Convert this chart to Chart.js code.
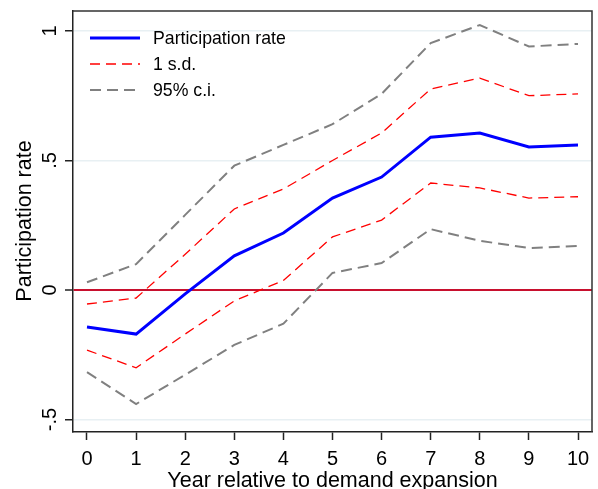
<!DOCTYPE html>
<html>
<head>
<meta charset="utf-8">
<script src="https://cdn.jsdelivr.net/npm/chart.js@4.4.1/dist/chart.umd.min.js"></script>
<style>
  html, body { margin: 0; padding: 0; background: #fff; }
  #wrap { width: 598px; height: 489px; }
</style>
</head>
<body>
<div id="wrap"><canvas id="c" width="598" height="489"></canvas></div>
<script>
// ---- data ----
const years = [0, 1, 2, 3, 4, 5, 6, 7, 8, 9, 10];
const participation = [-0.143, -0.170, -0.015, 0.132, 0.220, 0.355, 0.436, 0.590, 0.606, 0.552, 0.560];
const sdUpper  = [-0.054, -0.031, 0.138, 0.313, 0.390, 0.500, 0.606, 0.776, 0.818, 0.750, 0.757];
const sdLower  = [-0.232, -0.300, -0.170, -0.042, 0.037, 0.205, 0.270, 0.413, 0.394, 0.355, 0.360];
const ciUpper  = [0.030, 0.100, 0.290, 0.480, 0.560, 0.640, 0.757, 0.953, 1.023, 0.940, 0.950];
const ciLower  = [-0.317, -0.440, -0.327, -0.212, -0.130, 0.066, 0.104, 0.235, 0.190, 0.162, 0.170];
const yTickValues = [-0.5, 0, 0.5, 1];
const yTickLabels = ['-.5', '0', '.5', '1'];
const xTickValues = years;
const xTickLabels = years.map(String);
const legendLabels = ['Participation rate', '1 s.d.', '95% c.i.'];
const xTitle = 'Year relative to demand expansion';
const yTitle = 'Participation rate';

const pts = arr => years.map((x, i) => ({ x: x, y: arr[i] }));
const FONT = '"Liberation Sans", Arial, sans-serif';

const BLUE = '#0000ff', RED = '#ff0000', GRAY = '#808080';

const customDraw = {
  id: 'customDraw',
  afterDraw(chart) {
    const ctx = chart.ctx;
    const ca = chart.chartArea;
    const xs = chart.scales.x, ys = chart.scales.y;
    ctx.save();
    // top and right border of the plot box
    ctx.strokeStyle = '#333';
    ctx.lineWidth = 1.5;
    ctx.beginPath();
    ctx.moveTo(ca.left, ca.top);
    ctx.lineTo(ca.right, ca.top);
    ctx.lineTo(ca.right, ca.bottom);
    ctx.stroke();

    ctx.fillStyle = '#000';
    // x tick labels
    ctx.font = '20px ' + FONT;
    ctx.textAlign = 'center';
    ctx.textBaseline = 'middle';
    xTickValues.forEach((v, i) => {
      ctx.fillText(xTickLabels[i], xs.getPixelForValue(v), 459);
    });
    // y tick labels (rotated)
    yTickValues.forEach((v, i) => {
      const py = ys.getPixelForValue(v);
      ctx.save();
      ctx.translate(50, py);
      ctx.rotate(-Math.PI / 2);
      ctx.fillText(yTickLabels[i], 0, 0);
      ctx.restore();
    });
    // axis titles
    ctx.font = '21.5px ' + FONT;
    ctx.fillText(xTitle, (ca.left + ca.right) / 2, 481);
    ctx.save();
    ctx.translate(25, 221);
    ctx.rotate(-Math.PI / 2);
    ctx.fillText(yTitle, 0, 0);
    ctx.restore();

    // legend
    const items = [
      { c: BLUE, w: 3, d: [] },
      { c: RED, w: 1.3, d: [10, 6] },
      { c: GRAY, w: 2, d: [11, 6] }
    ];
    const rowsY = [38, 64, 90];
    ctx.font = '17.7px ' + FONT;
    ctx.textAlign = 'left';
    items.forEach((it, i) => {
      ctx.strokeStyle = it.c;
      ctx.lineWidth = it.w;
      ctx.setLineDash(it.d);
      ctx.beginPath();
      ctx.moveTo(90, rowsY[i]);
      ctx.lineTo(140, rowsY[i]);
      ctx.stroke();
      ctx.setLineDash([]);
      ctx.fillStyle = '#000';
      ctx.fillText(legendLabels[i], 153, rowsY[i] + 1);
    });
    ctx.restore();
  }
};

new Chart(document.getElementById('c'), {
  type: 'line',
  data: {
    datasets: [
      { label: legendLabels[2], data: pts(ciUpper), borderColor: GRAY, borderWidth: 2, borderDash: [11, 6] },
      { label: legendLabels[2], data: pts(ciLower), borderColor: GRAY, borderWidth: 2, borderDash: [11, 6] },
      { label: legendLabels[1], data: pts(sdUpper), borderColor: RED, borderWidth: 1.3, borderDash: [10, 6] },
      { label: legendLabels[1], data: pts(sdLower), borderColor: RED, borderWidth: 1.3, borderDash: [10, 6] },
      { label: legendLabels[0], data: pts(participation), borderColor: BLUE, borderWidth: 3 }
    ]
  },
  options: {
    responsive: false,
    animation: false,
    events: [],
    layout: { padding: { left: 65, right: 6, top: 11, bottom: 49 } },
    elements: { point: { radius: 0 }, line: { tension: 0, fill: false } },
    plugins: { legend: { display: false }, tooltip: { enabled: false } },
    scales: {
      x: {
        type: 'linear',
        min: -0.285, max: 10.285,
        afterBuildTicks: s => { s.ticks = xTickValues.map(v => ({ value: v })); },
        ticks: { display: false },
        grid: { drawOnChartArea: false, drawTicks: true, tickLength: 8, tickColor: '#222', tickWidth: 1.5 },
        border: { display: true, color: '#222', width: 1.5 }
      },
      y: {
        type: 'linear',
        min: -0.548, max: 1.077,
        afterBuildTicks: s => { s.ticks = yTickValues.map(v => ({ value: v })); },
        ticks: { display: false },
        grid: {
          drawTicks: true, tickLength: 8, tickColor: '#222', tickWidth: 1.5,
          color: c => (c.tick && c.tick.value === 0) ? '#c8102e' : '#e8f0f3',
          lineWidth: c => (c.tick && c.tick.value === 0) ? 2 : 1.5
        },
        border: { display: true, color: '#222', width: 1.5 }
      }
    }
  },
  plugins: [customDraw]
});
</script>
</body>
</html>
